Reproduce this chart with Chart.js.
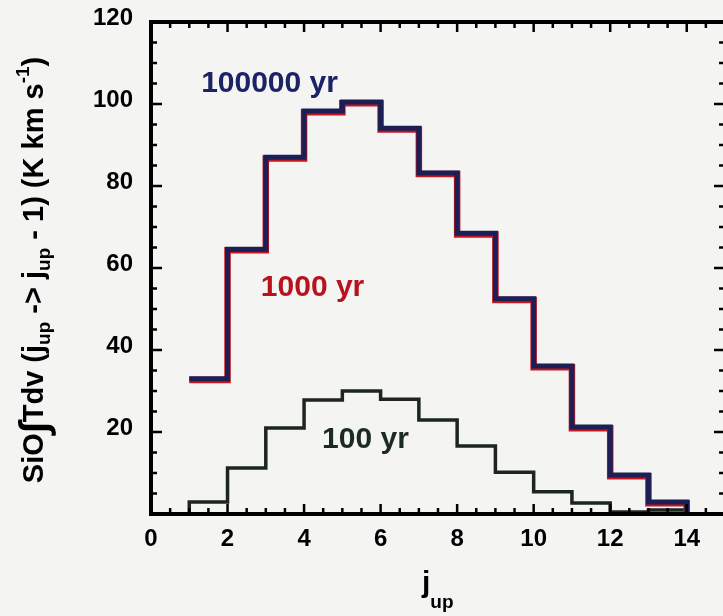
<!DOCTYPE html>
<html><head><meta charset="utf-8">
<script src="https://cdn.jsdelivr.net/npm/chart.js@4/dist/chart.umd.min.js"></script>
<style>
html,body{margin:0;padding:0;background:#f4f4f3;overflow:hidden;}
#wrap{width:730px;height:616px;position:relative;}
canvas{display:block;}
</style></head><body>
<div id="wrap"><canvas id="c" width="730" height="616"></canvas></div>
<script>
// lower j_up edge of each bin; last bin ends at jEnd
const jUp = [1,2,3,4,5,6,7,8,9,10,11,12,13];
const jEnd = 14;
const sio100000yr = [33, 64.6, 87, 98.3, 100.5, 94.1, 83.2, 68.5, 52.5, 36.1, 21.2, 9.5, 2.9];
const sio1000yr   = [32.7, 64.3, 86.7, 98, 100.2, 93.8, 82.9, 68.2, 52.2, 35.8, 20.9, 9.2, 2.6];
const sio100yr    = [2.9, 11.2, 21, 27.8, 30, 28, 22.9, 16.6, 10.2, 5.4, 2.7, 0.5, 1.0];
const xTickLabels = [0,2,4,6,8,10,12,14];
const yTickLabels = [20,40,60,80,100,120];
const seriesNames = ['100000 yr','1000 yr','100 yr'];

const FAM = '"Liberation Sans", Arial, Helvetica, sans-serif';

function stepData(vals, startZero, endZero){
  const pts = jUp.map((j,i)=>({x:j, y:vals[i]}));
  pts.push({x:jEnd, y:vals[vals.length-1]});
  if (endZero) pts.push({x:jEnd, y:0});
  if (startZero) pts.unshift({x:jUp[0], y:0});
  return pts;
}

function drawRich(ctx, segs, x, y, rot, align){
  ctx.save();
  ctx.translate(x,y); ctx.rotate(rot);
  let total = 0;
  segs.forEach(s=>{ ctx.font = 'bold '+s.size+'px '+FAM; s.w = ctx.measureText(s.t).width; total += s.w; });
  let cx = align === 'center' ? -total/2 : 0;
  ctx.textBaseline = 'alphabetic'; ctx.textAlign = 'left';
  segs.forEach(s=>{ ctx.font = 'bold '+s.size+'px '+FAM; ctx.fillStyle = s.color || '#000'; ctx.fillText(s.t, cx, s.dy || 0); cx += s.w; });
  ctx.restore();
}

const decor = {
  id: 'decor',
  afterDraw(chart){
    const ctx = chart.ctx, a = chart.chartArea;
    const xs = chart.scales.x, ys = chart.scales.y;
    ctx.save();
    ctx.strokeStyle = '#000';
    ctx.lineWidth = 2.5;
    for (let v = 0.5; v < 15; v += 0.5){
      const px = xs.getPixelForValue(v);
      const len = (v % 2 === 0) ? 10 : 6;
      ctx.beginPath();
      ctx.moveTo(px, a.bottom); ctx.lineTo(px, a.bottom - len);
      ctx.moveTo(px, a.top); ctx.lineTo(px, a.top + len);
      ctx.stroke();
    }
    for (let v = 5; v < 120; v += 5){
      const py = ys.getPixelForValue(v);
      const len = (v % 20 === 0) ? 11 : 6;
      ctx.beginPath();
      ctx.moveTo(a.left, py); ctx.lineTo(a.left + len, py);
      ctx.moveTo(a.right, py); ctx.lineTo(a.right - len, py);
      ctx.stroke();
    }
    ctx.lineWidth = 4;
    ctx.strokeRect(a.left, a.top, a.right - a.left, a.bottom - a.top);
    ctx.restore();

    const lab = (txt, xv, yv, col) => {
      ctx.save();
      ctx.font = 'bold 30px ' + FAM;
      ctx.fillStyle = col; ctx.textAlign = 'left'; ctx.textBaseline = 'alphabetic';
      ctx.fillText(txt, xs.getPixelForValue(xv), ys.getPixelForValue(yv));
      ctx.restore();
    };
    lab(seriesNames[0], 1.31, 102.9, '#1b2266');
    lab(seriesNames[1], 2.87, 53.2, '#b8121c');
    lab(seriesNames[2], 4.47, 16.1, '#1c2b1f');

    drawRich(ctx, [
      {t:'SiO', size:29},
      {t:'\u222B', size:40, dy:4},
      {t:'Tdv (j', size:29},
      {t:'up', size:19, dy:7},
      {t:' -> j', size:29},
      {t:'up', size:19, dy:7},
      {t:' - 1) (K km s', size:29},
      {t:'-1', size:19, dy:-14},
      {t:')', size:29}
    ], 43, 270, -Math.PI/2, 'center');
    drawRich(ctx, [
      {t:'j', size:30},
      {t:'up', size:19, dy:16}
    ], 422, 592, 0, 'left');
  }
};

new Chart(document.getElementById('c'), {
  type: 'line',
  data: {
    datasets: [
      { label: seriesNames[0], data: stepData(sio100000yr, false, true), borderColor: '#1b1f55', borderWidth: 5, order: 0 },
      { label: seriesNames[1], data: stepData(sio1000yr, false, true), borderColor: '#c8141f', borderWidth: 6.5, order: 1 },
      { label: seriesNames[2], data: stepData(sio100yr, true, true), borderColor: '#1c261e', borderWidth: 3.5, order: 2 }
    ].map(d => Object.assign(d, { stepped: 'before', pointRadius: 0, fill: false, tension: 0, borderJoinStyle: 'miter', borderCapStyle: 'butt' }))
  },
  options: {
    responsive: false,
    animation: false,
    events: [],
    layout: { padding: { top: 22, right: 5, left: 0, bottom: 0 } },
    plugins: { legend: { display: false }, tooltip: { enabled: false } },
    scales: {
      x: {
        type: 'linear', min: 0, max: 15,
        grid: { display: false, drawTicks: false }, border: { display: false },
        afterBuildTicks: s => { s.ticks = xTickLabels.map(v => ({ value: v })); },
        ticks: {
          autoSkip: false, maxRotation: 0, padding: 11,
          color: '#000', font: { family: FAM, size: 24, weight: 'bold' },
          callback: v => String(v)
        },
        afterFit: s => { s.height = 102; s.paddingLeft = 0; s.paddingRight = 0; }
      },
      y: {
        min: 0, max: 120,
        grid: { display: false, drawTicks: false }, border: { display: false },
        afterBuildTicks: s => { s.ticks = yTickLabels.map(v => ({ value: v })); },
        ticks: {
          padding: 18, labelOffset: -4,
          color: '#000', font: { family: FAM, size: 24, weight: 'bold' },
          callback: v => String(v)
        },
        afterFit: s => { s.width = 151; s.paddingTop = 0; s.paddingBottom = 0; }
      }
    }
  },
  plugins: [decor]
});
</script>
</body></html>
